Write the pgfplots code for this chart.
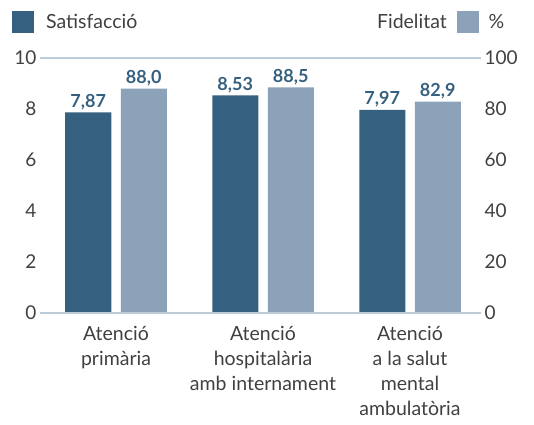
\documentclass[border=0pt]{standalone}
\usepackage{pgfplots}
\pgfplotsset{compat=1.18}
\usepackage{fontspec}
\setmainfont{Lato}
\definecolor{dark}{HTML}{36607F}
\definecolor{light}{HTML}{8BA2B9}
\definecolor{gridc}{HTML}{BCCBD8}
\definecolor{txt}{HTML}{404040}
\pgfplotsset{/pgf/number format/assume math mode=true}
\pgfplotsset{base/.style={
  scale only axis, width=441pt, height=255pt, at={(0pt,0pt)}, anchor=south west,
  xmin=-0.517, xmax=2.483, ymin=0, clip=false,
  axis line style={draw=none}, tick style={draw=none},
  ybar, bar width=46pt,
  tick label style={font=\fontsize{19}{23}\selectfont, text=txt},
  nodes near coords style={font=\fontsize{18}{22}\selectfont\bfseries, text=dark, yshift=-1pt},
  legend style={draw=none, fill=none, inner sep=0pt, nodes={inner sep=0pt}, font=\fontsize{19.5}{23}\selectfont, text=txt},
}}
\begin{document}
\begin{tikzpicture}
\useasboundingbox (-40pt,-111pt) rectangle (494pt,313pt);
\begin{axis}[base, ymax=10, ytick={0,2,4,6,8,10},
  xtick={0,1,2},
  xticklabels={{Atenció\\primària},{Atenció\\hospitalària\\amb internament},{Atenció\\a la salut\\mental\\ambulatòria}},
  xticklabel style={align=center, font=\fontsize{19.5}{25}\selectfont, yshift=-5pt},
  nodes near coords={\pgfmathprintnumber[fixed,fixed zerofill,precision=2,use comma]{\pgfplotspointmeta}},
  legend style={at={(-28/441, 291/255)}, anchor=west},
  legend image code/.code={\fill[dark] (0pt,-11pt) rectangle (22pt,11pt); \path (34pt,0pt);},
]
\addplot[fill=dark, draw=none, bar shift=-27.75pt] coordinates {(0,7.87) (1,8.53) (2,7.97)};
\addlegendentry{Satisfacció}
\draw[gridc, line width=1.6pt] (axis cs:-0.517,10) -- (axis cs:2.483,10);
\draw[gridc, line width=1.6pt] (axis cs:-0.517,0) -- (axis cs:2.483,0);
\end{axis}
\begin{axis}[base, ymax=100, ytick={0,20,40,60,80,100}, yticklabel pos=right,
  xtick=\empty,
  nodes near coords={\pgfmathprintnumber[fixed,fixed zerofill,precision=1,use comma]{\pgfplotspointmeta}},
  legend plot pos=right,
  legend style={at={(439/441, 291/255)}, anchor=east},
  legend image code/.code={\path (-10pt,0pt); \fill[light] (0pt,-11pt) rectangle (22pt,11pt);},
]
\addplot[fill=light, draw=none, bar shift=27.75pt] coordinates {(0,88.0) (1,88.5) (2,82.9)};
\addlegendentry{Fidelitat}
\draw[gridc, line width=1.6pt] (axis cs:-0.517,0) -- (axis cs:2.483,0);
\end{axis}
\node[font=\fontsize{19.5}{23}\selectfont, text=txt] at (456.5pt,291pt) {\%};
\end{tikzpicture}
\end{document}
